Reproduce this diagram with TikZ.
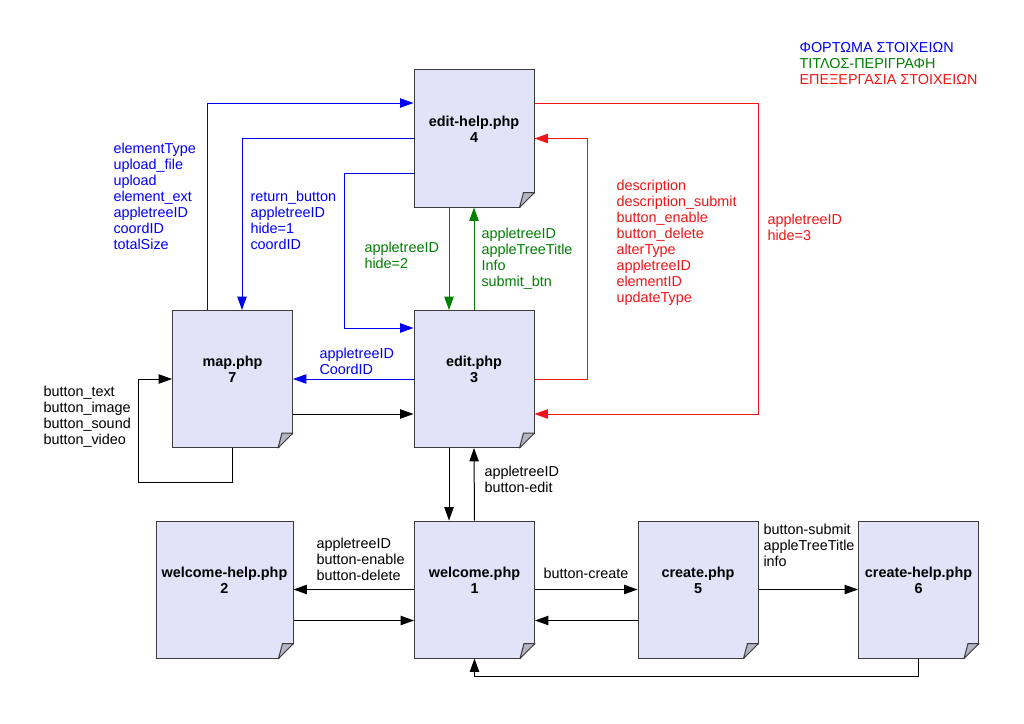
\documentclass[tikz,border=0pt]{standalone}
\usepackage{fontspec}
\setmainfont{Liberation Sans}
\usetikzlibrary{arrows.meta, calc}
\definecolor{pagefill}{RGB}{226,226,248}
\definecolor{pageline}{RGB}{60,60,60}
\definecolor{foldgray}{RGB}{180,180,194}
\definecolor{loadblue}{RGB}{0,0,240}
\definecolor{titlegreen}{RGB}{0,128,0}
\definecolor{editred}{RGB}{240,20,20}
\tikzset{>={Triangle[length=10pt,width=7pt]},
  every node/.style={font=\fontsize{10.8}{12}\selectfont},
  phpfile/.style={draw=pageline, fill=pagefill, minimum width=90pt, minimum height=102.75pt, inner sep=0pt},
  lbl/.style={align=left, inner sep=0pt, anchor=north west}}
\newcommand\pagetext[2]{\raisebox{5.6pt}[\height][\depth]{\begin{tabular}{@{}c@{}}\textbf{#1}\\\textbf{#2}\end{tabular}}}
\newcommand\pagefold[1]{%
  \fill[white] ($(#1.south east)+(-15,1)$) -- ($(#1.south east)+(1,1)$) -- ($(#1.south east)+(1,-15)$) -- cycle;
  \filldraw[fill=foldgray, draw=pageline, line join=round] ($(#1.south east)+(-15,0)$) -- ($(#1.south east)+(-11,-15)$) -- ($(#1.south east)+(0,-15)$) -- cycle;}

\begin{document}
\begin{tikzpicture}[x=0.75pt, y=-0.75pt, line width=0.75pt]
\useasboundingbox (0,0) rectangle (1024,724);
% pages
\node[phpfile] (edithelp) at (474,138.5) {\pagetext{edit-help.php}{4}};
\node[phpfile] (edit) at (474,379) {\pagetext{edit.php}{3}};
\node[phpfile] (map) at (232.5,379) {\pagetext{map.php}{7}};
\node[phpfile] (welcome) at (474.5,589.5) {\pagetext{welcome.php}{1}};
\node[phpfile, minimum width=102.75pt] (welcomehelp) at (224.5,589.5) {\pagetext{welcome-help.php}{2}};
\node[phpfile] (create) at (698,589.5) {\pagetext{create.php}{5}};
\node[phpfile] (createhelp) at (918.5,589.5) {\pagetext{create-help.php}{6}};
\foreach \p in {edithelp,edit,map,welcome,welcomehelp,create,createhelp}
  \pagefold{\p};

% blue
\draw[->, loadblue] ($(map.north)+(-25.5,0)$) |- ($(edithelp.west)+(0,-35.5)$);
\draw[->, loadblue] (edithelp.west) -| ($(map.north)+(9.5,0)$);
\draw[->, loadblue] ($(edithelp.west)+(0,34.5)$) -| ($(edit.west)+(-69,-51)$) -- ($(edit.west)+(0,-51)$);
\draw[->, loadblue] (edit.west) -- (map.east);
% green
\draw[->, titlegreen] ($(edithelp.south)+(-25,0)$) -- ($(edit.north)+(-25,0)$);
\draw[->, titlegreen] (edit.north) -- (edithelp.south);
% red
\draw[->, editred] (edit.east) -- ++(53,0) |- (edithelp.east);
\draw[->, editred] ($(edithelp.east)+(0,-35.5)$) -- ++(224,0) |- ($(edit.east)+(0,35)$);
% black
\draw[->] ($(map.east)+(0,35)$) -- ($(edit.west)+(0,35)$);
\draw[->] (map.south) -- ++(0,34) -| ($(map.west)+(-34,0)$) -- (map.west);
\draw[->] ($(edit.south)+(-25,0)$) -- ($(welcome.north)+(-25.5,0)$);
\draw[->] (welcome.north) -- (edit.south);
\draw[->] (welcome.west) -- (welcomehelp.east);
\draw[->] ($(welcomehelp.east)+(0,31)$) -- ($(welcome.west)+(0,31)$);
\draw[->] (welcome.east) -- (create.west);
\draw[->] ($(create.west)+(0,31)$) -- ($(welcome.east)+(0,31)$);
\draw[->] (create.east) -- (createhelp.west);
\draw[->] (createhelp.south) -- ++(0,18) -| (welcome.south);

% labels
\node[lbl, loadblue] (lblupload) at (113,143) {elementType\\upload\_file\\upload\\element\_ext\\appletreeID\\coordID\\totalSize};
\node[lbl, loadblue] (lblreturn) at (250,191) {return\_button\\appletreeID\\hide=1\\coordID};
\node[lbl, loadblue] (lblcoord) at (319,348) {appletreeID\\CoordID};
\node[lbl, titlegreen] (lblhidetwo) at (364,242) {appletreeID\\hide=2};
\node[lbl, titlegreen] (lblsubmit) at (481,228) {appletreeID\\appleTreeTitle\\Info\\submit\_btn};
\node[lbl, editred] (lbldescr) at (616,180) {description\\description\_submit\\button\_enable\\button\_delete\\alterType\\appletreeID\\elementID\\updateType};
\node[lbl, editred] (lblhidethree) at (767,214) {appletreeID\\hide=3};
\node[lbl] (lblbuttons) at (43,386) {button\_text\\button\_image\\button\_sound\\button\_video};
\node[lbl] (lbledit) at (484,466) {appletreeID\\button-edit};
\node[lbl] (lblenable) at (316,538) {appletreeID\\button-enable\\button-delete};
\node[lbl] (lblcreate) at (543,568) {button-create};
\node[lbl] (lblinfo) at (763,524) {button-submit\\appleTreeTitle\\info};
\node[lbl] (legend) at (799,42) {\textcolor{loadblue}{ΦΟΡΤΩΜΑ ΣΤΟΙΧΕΙΩΝ}\\\textcolor{titlegreen}{ΤΙΤΛΟΣ-ΠΕΡΙΓΡΑΦΗ}\\\textcolor{editred}{ΕΠΕΞΕΡΓΑΣΙΑ ΣΤΟΙΧΕΙΩΝ}};
\end{tikzpicture}
\end{document}
